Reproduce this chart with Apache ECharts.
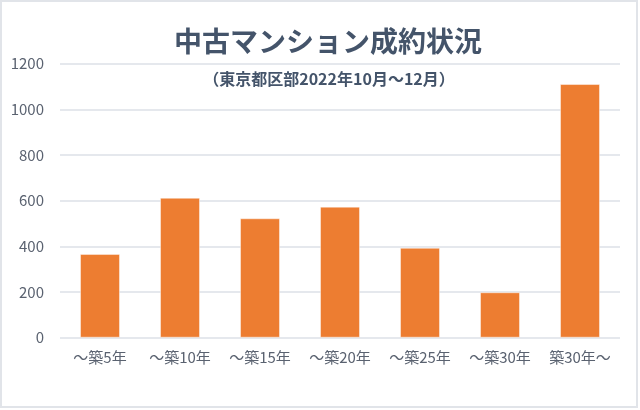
<!DOCTYPE html>
<html>
<head>
<meta charset="utf-8">
<script src="https://cdn.jsdelivr.net/npm/echarts@6/dist/echarts.min.js"></script>
<style>
html,body{margin:0;padding:0;background:#fff;}
#chart{width:640px;height:410px;}
</style>
</head>
<body>
<div id="chart"></div>
<script>
const titleText = '中古マンション成約状況';
const subtitleText = '（東京都区部2022年10月～12月）';
const categories = ['～築5年', '～築10年', '～築15年', '～築20年', '～築25年', '～築30年', '築30年～'];
const values = [367, 613, 523, 574, 394, 199, 1111];
const yTicks = [0, 200, 400, 600, 800, 1000, 1200];

const FONT = '"Noto Sans CJK JP", "Noto Sans", sans-serif';
const chart = echarts.init(document.getElementById('chart'), null, {renderer: 'canvas'});
chart.setOption({
  backgroundColor: '#ffffff',
  animation: false,
  textStyle: {fontFamily: FONT},
  graphic: [
    {type: 'rect', shape: {x: 1, y: 1, width: 636, height: 406}, style: {fill: 'none', stroke: '#e1e4e9', lineWidth: 2}, silent: true},
    {type: 'text', x: 328, y: 41, style: {text: titleText, fill: '#44546a', font: 'bold 28px ' + FONT, textAlign: 'center', textVerticalAlign: 'middle'}},
    {type: 'text', x: 329, y: 79, style: {text: subtitleText, fill: '#44546a', font: 'bold 16px ' + FONT, textAlign: 'center', textVerticalAlign: 'middle'}}
  ],
  grid: {left: 60, right: 20, top: 63.7, bottom: 72.3, containLabel: false},
  xAxis: {
    type: 'category',
    data: categories,
    axisLine: {show: false},
    axisTick: {show: false},
    axisLabel: {color: '#5a6270', fontSize: 15, margin: 12, interval: 0, fontFamily: FONT}
  },
  yAxis: {
    type: 'value',
    min: yTicks[0],
    max: yTicks[yTicks.length - 1],
    interval: 200,
    axisLine: {show: false},
    axisTick: {show: false},
    axisLabel: {color: '#5a6270', fontSize: 15, margin: 16, fontFamily: FONT, formatter: function (v) { return String(v); }},
    splitLine: {lineStyle: {color: '#dde1e7', width: 1.5}}
  },
  series: [{
    type: 'bar',
    data: values,
    barWidth: '50%',
    itemStyle: {color: '#ed7d31', borderColor: 'rgba(255,255,255,0.45)', borderWidth: 1}
  }]
});
</script>
</body>
</html>
